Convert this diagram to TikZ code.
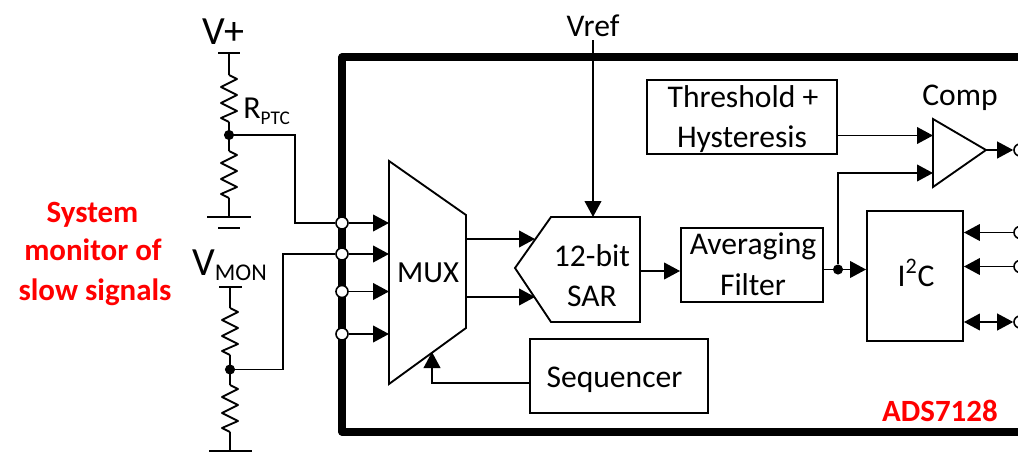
\documentclass[tikz,border=0pt]{standalone}
\usepackage{fontspec}
\setmainfont{Carlito}
\usetikzlibrary{arrows.meta,calc}
\tikzset{
  x=0.75pt,y=-0.75pt,
  wire/.style={line width=1.4pt,line join=miter},
  arr/.style={wire,-{Triangle[length=12pt,width=12.5pt]}},
  darr/.style={wire,{Triangle[length=12pt,width=12.5pt]}-{Triangle[length=12pt,width=12.5pt]}},
  blk/.style={draw,line width=1.4pt,inner sep=0pt},
  shp/.style={line width=1.4pt,line join=miter},
  txt/.style={inner sep=0pt,anchor=base,font=\fontsize{23.7}{28}\selectfont},
  pin/.style={circle,draw,fill=white,line width=1.2pt,minimum size=9pt,inner sep=0pt},
  dot/.style={circle,fill=black,minimum size=7.6pt,inner sep=0pt},
  redt/.style={inner sep=0pt,anchor=base,text=red,font=\fontsize{23.2}{28}\selectfont\bfseries},
  resistor/.pic={\draw[wire,line join=round] (0,0) -- (8,4) -- (-8,12) -- (8,20) -- (-8,28) -- (8,36) -- (-8,43) -- (0,47);}
}
\begin{document}
\begin{tikzpicture}
\clip (0,0) rectangle (1018,457);
\fill[white] (0,0) rectangle (1018,457);
% device outline
\draw[line width=5.4pt,line join=round] (1030,57) -- (342,57) -- (342,432) -- (1030,432);
% left circuit 1
\node[txt,anchor=base west,font=\fontsize{30}{32}\selectfont] (vp) at (202,44) {V+};
\coordinate (vpbar) at (229,53);
\draw[wire] (218,53) -- (240,53);
\coordinate (r1t) at (229,75);
\coordinate (r1b) at (229,122);
\coordinate (j1) at (229,135);
\coordinate (r2t) at (229,151);
\coordinate (r2b) at (229,198);
\coordinate (g1) at (229,217);
\draw[wire] (vpbar) -- (r1t);
\pic at (r1t) {resistor};
\draw[wire] (r1b) -- (r2t);
\pic at (r2t) {resistor};
\draw[wire] (r2b) -- (g1);
\draw[wire] (207,217) -- (251,217);
\draw[wire] (218,228) -- (240,228);
\node[dot] (j1d) at (j1) {};
\node[txt,anchor=base west,font=\fontsize{24}{28}\selectfont] (rptc) at (243,118) {R\raisebox{-4.5pt}{\fontsize{14.5}{18}\selectfont PTC}};
% left circuit 2
\node[txt,anchor=base west,font=\fontsize{30}{32}\selectfont] (vmon) at (192,275) {V\raisebox{-3.75pt}{\fontsize{18}{22}\selectfont MON}};
\coordinate (vmbar) at (230,287);
\draw[wire] (219,287) -- (242,287);
\coordinate (r3t) at (230,308);
\coordinate (r3b) at (230,355);
\coordinate (j2) at (230,369.5);
\coordinate (r4t) at (230,385);
\coordinate (r4b) at (230,432);
\coordinate (g2) at (230,451);
\draw[wire] (vmbar) -- (r3t);
\pic at (r3t) {resistor};
\draw[wire] (r3b) -- (r4t);
\pic at (r4t) {resistor};
\draw[wire] (r4b) -- (g2);
\draw[wire] (209,451) -- (252,451);
\node[dot] (j2d) at (j2) {};
% pins left
\node[pin] (p1) at (342,223) {};
\node[pin] (p2) at (342,254) {};
\node[pin] (p3) at (342,291.5) {};
\node[pin] (p4) at (342,334) {};
\draw[wire] (j1d) -- (295,135) -- (295,223) -- (p1);
\draw[wire] (j2d) -- (283,369.5) -- (283,254) -- (p2);
% red label
\node[redt] (sys1) at (92.5,222) {System};
\node[redt] (sys2) at (93,260) {monitor of};
\node[redt] (sys3) at (95,300) {slow signals};
% MUX
\coordinate (mtl) at (389,161);
\coordinate (mtr) at (466,215);
\coordinate (mbr) at (466,328);
\coordinate (mbl) at (389,384);
\draw[shp] (mtl) -- (mtr) -- (mbr) -- (mbl) -- cycle;
\node[txt,font=\fontsize{23}{28}\selectfont] (mux) at (428,282) {MUX};
\foreach \p in {p1,p2,p3,p4}{\draw[arr] (\p) -- (mtl |- \p);}
% SAR
\coordinate (s1) at (551,217);
\coordinate (s2) at (640,217);
\coordinate (s3) at (640,322);
\coordinate (s4) at (551,322);
\coordinate (s5) at (515,268);
\draw[shp] (s1) -- (s2) -- (s3) -- (s4) -- (s5) -- cycle;
\node[txt] (sar1) at (592,266) {12-bit};
\node[txt] (sar2) at (592,306) {SAR};
\coordinate (sa1) at (535,239);
\coordinate (sa2) at (535,297);
\draw[arr] (mtr |- sa1) -- (sa1);
\draw[arr] (mtr |- sa2) -- (sa2);
\node[txt] (vref) at (593,36) {Vref};
\draw[arr] (593,40) -- (593,217);
% Filter
\node[blk,minimum width=106.5pt,minimum height=55.5pt] (filt) at (752,265) {};
\node[txt] (filt1) at (753,254) {Averaging};
\node[txt] (filt2) at (753,295) {Filter};
\draw[arr] (s2 |- 0,271) -- (filt.west |- 0,271);
% I2C
\node[blk,minimum width=72pt,minimum height=97.5pt] (i2c) at (915,276) {};
\node[txt] (i2ct) at (916,286) {I\textsuperscript{2}C};
\coordinate (j3) at (838,269.5);
\node[dot] (j3d) at (j3) {};
\draw[wire] (filt.east |- j3d) -- (j3d);
\draw[arr] (j3d) -- (i2c.west |- j3d);
% Threshold
\node[blk,minimum width=142.5pt,minimum height=55.5pt] (thr) at (742,117) {};
\node[txt] (thr1) at (743,107) {Threshold +};
\node[txt] (thr2) at (742,147) {Hysteresis};
% Comp
\coordinate (c1) at (933,119);
\coordinate (c2) at (933,187);
\coordinate (c3) at (986,150);
\draw[shp] (c1) -- (c3) -- (c2) -- cycle;
\node[txt] (comp) at (960,105) {Comp};
\draw[arr] (thr.east |- 0,135.5) -- (c1 |- 0,135.5);
\draw[arr] (j3d) -- (838,173) -- (c1 |- 0,173);
% pins right
\node[pin] (q1) at (1020,150) {};
\node[pin] (q2) at (1020,232.5) {};
\node[pin] (q3) at (1020,266.5) {};
\node[pin] (q4) at (1020,322) {};
\draw[arr] (c3) -- (q1);
\draw[arr] (q2) -- (i2c.east |- q2);
\draw[arr] (q3) -- (i2c.east |- q3);
\draw[darr] (q4) -- (i2c.east |- q4);
% Sequencer
\node[blk,minimum width=133.5pt,minimum height=55.5pt] (seq) at (619,376) {};
\node[txt] (seqt) at (614.5,387) {Sequencer};
\coordinate (mt) at (432,352);
\draw[arr] (seq.west |- 0,383) -- (432,383) -- (mt);
% ADS
\node[redt,anchor=base east] (ads) at (998,421) {ADS7128};
\end{tikzpicture}
\end{document}
